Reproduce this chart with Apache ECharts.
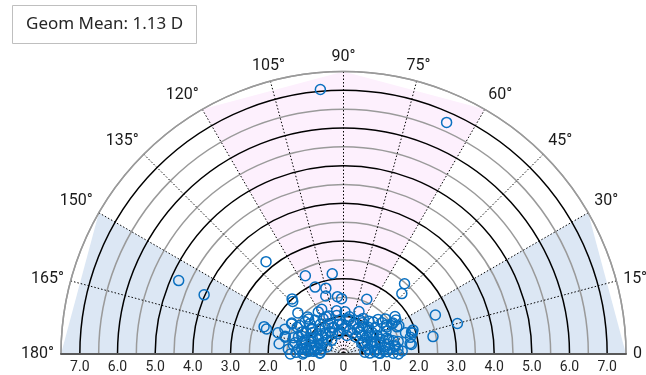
<!DOCTYPE html>
<html>
<head>
<meta charset="utf-8">
<script src="https://cdn.jsdelivr.net/npm/echarts@6/dist/echarts.min.js"></script>
<style>
  html, body { margin: 0; padding: 0; background: #fff; }
  #chart { width: 646px; height: 375px; }
</style>
</head>
<body>
<div id="chart"></div>
<script>
// axis of each eye (deg) and its cylinder power (D)
const axisDeg = [
  95, 66, 156, 157, 130, 161, 162, 162, 163, 171,
  134, 116, 113, 150, 98, 49, 46, 23, 15, 11,
  8, 17, 19, 67, 96, 105, 107, 33, 32, 32,
  13, 1, 8, 30, 61, 81, 115, 138, 134, 147,
  140, 130, 120, 117, 100, 141, 135, 121, 159, 160,
  159, 149, 173, 176, 173, 170, 175, 157, 131, 99,
  121, 157, 92, 64, 72, 85, 96, 75, 47, 47,
  34, 32, 27, 40, 36, 18, 9, 14, 29, 18,
  20, 15, 7, 5, 4, 12, 23, 5, 30, 36,
  53, 0, 1, 80, 90, 178, 180, 178, 165, 140,
  133, 110, 125, 60, 45, 100, 145, 165, 168, 10,
  25, 40, 55, 150, 170, 5, 2, 175, 20, 140, 85,
  164, 149, 150, 167, 174, 135, 142, 116, 111, 99,
  114, 93, 81, 61, 59, 37, 39, 27, 19, 20,
  18, 9, 3, 11, 2, 163, 164, 149, 175, 177,
  157, 180, 133, 105, 54, 31, 170, 160, 150, 145,
  155, 168, 172, 178, 162, 152, 25, 15, 8, 35,
  42, 12, 3, 28, 22, 45, 52, 128, 138, 66,
  118, 88, 70
];
const cylPower = [
  7.05, 6.73, 4.79, 4.02, 3.2, 2.23, 2.15, 1.83, 1.62, 1.73,
  1.94, 2.31, 1.93, 1.59, 2.15, 2.47, 2.23, 2.65, 3.13, 2.42,
  1.82, 1.91, 1.95, 1.58, 1.53, 1.81, 1.61, 1.66, 1.55, 1.35,
  1.49, 1.32, 1.38, 0.91, 1.08, 1.0, 1.09, 1.63, 1.37, 1.39,
  1.33, 1.17, 1.08, 0.9, 1.04, 1.08, 0.89, 0.69, 1.28, 1.09,
  0.9, 0.78, 1.12, 0.94, 0.76, 1.35, 1.47, 0.48, 0.48, 0.59,
  1.3, 1.69, 1.47, 1.0, 0.85, 0.94, 0.9, 0.65, 0.97, 1.16,
  1.38, 1.51, 1.59, 1.45, 1.69, 1.9, 1.79, 1.83, 1.01, 1.02,
  1.22, 1.37, 1.24, 1.06, 0.84, 0.67, 0.82, 0.57, 0.56, 0.76,
  0.73, 1.46, 0.97, 0.5, 0.67, 1.26, 1.08, 0.63, 0.92, 0.58,
  2.0, 0.75, 0.85, 0.8, 0.7, 0.8, 1.0, 1.15, 0.7, 1.1,
  1.15, 1.1, 0.9, 1.15, 1.0, 1.45, 0.7, 0.8, 0.6, 0.75, 0.75,
  1.61, 1.6, 1.42, 1.32, 1.2, 1.31, 1.06, 1.32, 1.08, 1.16,
  0.76, 0.79, 0.93, 0.75, 0.97, 0.95, 1.32, 1.65, 1.74, 0.9,
  1.26, 1.39, 1.56, 0.68, 0.94, 1.06, 0.78, 0.77, 0.93, 0.62,
  1.2, 1.41, 0.71, 0.56, 0.56, 0.6, 0.6, 0.65, 0.62, 0.85,
  0.95, 0.85, 1.05, 1.05, 1.4, 1.25, 0.7, 0.8, 0.9, 0.85,
  0.9, 1.2, 1.15, 1.28, 1.05, 1.3, 1.1, 1.0, 1.2, 0.6,
  0.62, 1.12, 1.2
];

// shaded sectors: corner angles on the outer ring
const withRuleBands = [[0, 30], [150, 180]];
const againstRuleBands = [[60, 90, 120]];
const bandRadius = 7.5;
const innerRing = 0.5;

const geomMeanText = 'Geom Mean: 1.13 D';

const FONT = 'Noto Sans';
const LABEL_FONT = 'Roboto';

const chart = echarts.init(document.getElementById('chart'));

function bandSeries(bands, color) {
  return {
    type: 'custom',
    coordinateSystem: 'polar',
    z: -1,
    silent: true,
    data: bands.map((b) => [bandRadius, b[0]]),
    renderItem(params, api) {
      const angles = bands[params.dataIndex];
      const pts = [api.coord([0, angles[0]])].concat(
        angles.map((a) => api.coord([bandRadius, a]))
      );
      return { type: 'polygon', shape: { points: pts }, style: { fill: color } };
    },
  };
}

chart.setOption({
  animation: false,
  backgroundColor: '#fff',
  title: {
    text: geomMeanText,
    left: 12,
    top: 5,
    padding: [10, 14],
    borderColor: '#bfbfbf',
    borderWidth: 1,
    textStyle: { fontFamily: FONT, fontSize: 17, fontWeight: 'normal', color: '#262626', lineHeight: 19 },
  },
  polar: { center: [343.5, 354], radius: 282.5 },
  angleAxis: {
    type: 'value',
    min: 0,
    max: 180,
    interval: 15,
    startAngle: 0,
    endAngle: 180,
    clockwise: false,
    axisLine: { show: true, lineStyle: { color: '#9a9a9a', width: 1.5 } },
    axisTick: { show: false },
    axisLabel: {
      margin: 7,
      fontFamily: LABEL_FONT,
      fontSize: 16,
      color: '#1a1a1a',
      formatter: (v) => (v === 0 ? '0' : v + '°'),
    },
    splitLine: { show: true, lineStyle: { color: '#000', width: 1, type: [1.5, 2] } },
  },
  radiusAxis: {
    type: 'value',
    min: 0,
    max: 7.5,
    interval: 0.5,
    axisLine: { show: false },
    axisTick: { show: false },
    axisLabel: { show: false },
    splitLine: { show: true, lineStyle: { color: ['#000', '#9a9a9a'], width: 1.5 } },
  },
  grid: { left: 61, right: 20, top: 353, height: 1 },
  xAxis: {
    type: 'value',
    min: -7.5,
    max: 7.5,
    interval: 0.5,
    splitLine: { show: false },
    axisTick: { show: false },
    axisLine: { show: true, onZero: false, lineStyle: { color: '#595959', width: 2 } },
    axisLabel: {
      margin: 6,
      fontFamily: LABEL_FONT,
      fontSize: 14,
      color: '#262626',
      showMinLabel: true,
      showMaxLabel: true,
      formatter: (v) => {
        if (Math.abs(v % 1) > 1e-6) return '';
        return v === 0 ? '0' : Math.abs(v).toFixed(1);
      },
    },
  },
  yAxis: { type: 'value', show: false, min: 0, max: 1 },
  series: [
    bandSeries(withRuleBands, '#dce7f4'),
    bandSeries(againstRuleBands, '#fdf0fd'),
    {
      type: 'custom',
      coordinateSystem: 'polar',
      silent: true,
      z: 1,
      data: [[innerRing, 0]],
      renderItem(params, api) {
        const c = api.coord([0, 0]);
        const e = api.coord([innerRing, 0]);
        return {
          type: 'arc',
          shape: { cx: c[0], cy: c[1], r: e[0] - c[0], startAngle: Math.PI, endAngle: 2 * Math.PI },
          style: { stroke: '#000', fill: 'none', lineWidth: 2 },
        };
      },
    },
    {
      type: 'scatter',
      coordinateSystem: 'polar',
      symbol: 'circle',
      symbolSize: 10,
      itemStyle: { color: 'rgba(0,0,0,0)', borderColor: '#0a70c0', borderWidth: 1.5, opacity: 1 },
      data: axisDeg.map((a, i) => [cylPower[i], a]),
    },
  ],
});
</script>
</body>
</html>
